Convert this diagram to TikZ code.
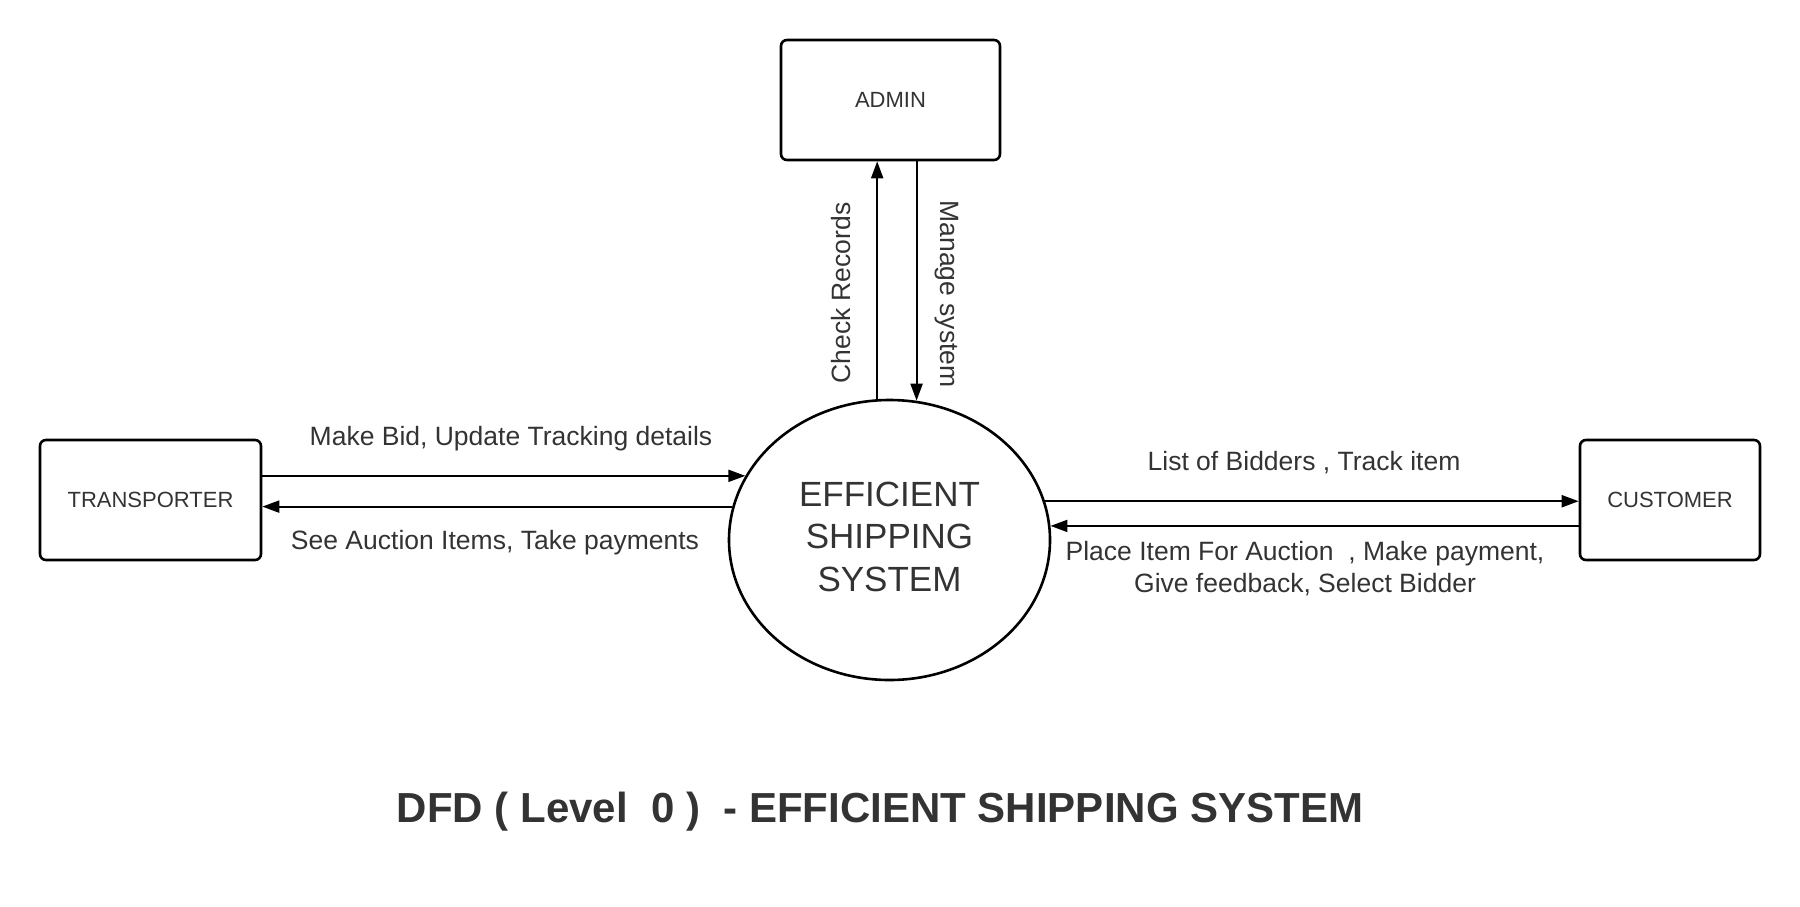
\documentclass[tikz,border=0pt]{standalone}
\usepackage{fontspec}
\setmainfont{Liberation Sans}
\usetikzlibrary{arrows.meta,shapes.geometric}
\definecolor{txt}{HTML}{333333}
\tikzset{
  entity/.style={draw=black, line width=2.6pt, rounded corners=6pt, inner sep=0pt, text=txt, font=\fontsize{22}{26}\selectfont},
  proc/.style={draw=black, line width=2.6pt, ellipse, inner sep=0pt, minimum width=321pt, minimum height=280pt, text=txt, align=center, font=\fontsize{35}{42.5}\selectfont},
  flow/.style={line width=2pt, -{Triangle[length=17pt,width=12pt]}},
  lbl/.style={text=txt, align=center, inner sep=0pt, font=\fontsize{26.5}{32}\selectfont}
}
\begin{document}
\begin{tikzpicture}[x=1pt,y=-1pt]
\useasboundingbox (0,0) rectangle (1800,906);
\node[entity, minimum width=219pt, minimum height=120pt] (admin) at (890.5,100) {ADMIN};
\node[entity, minimum width=221pt, minimum height=120pt] (trans) at (150.5,500) {TRANSPORTER};
\node[entity, minimum width=180pt, minimum height=120pt] (cust) at (1670,500) {CUSTOMER};
\node[proc] (sys) at (889.5,540) {EFFICIENT\\SHIPPING\\SYSTEM\rule[-7pt]{0pt}{0pt}};
% transporter flows
\draw[flow] (sys.156 -| trans.east) -- (sys.156);
\draw[flow] (sys.168.2) -- (sys.168.2 -| trans.east);
% customer flows
\draw[flow] (sys.14.4) -- (sys.14.4 -| cust.west);
\draw[flow] (sys.5.5 -| cust.west) -- (sys.5.5);
% admin flows
\draw[flow] (sys.95.8) -- (sys.95.8 |- admin.south);
\draw[flow] (sys.79.7 |- admin.south) -- (sys.79.7);
% labels
\node[lbl] (l1) at (511,439) {Make Bid, Update Tracking details};
\node[lbl] (l2) at (495,543) {See Auction Items, Take payments};
\node[lbl] (l3) at (1304,463) {List of Bidders , Track item};
\node[lbl] (l4) at (1305,569) {Place Item For Auction\ \ , Make payment,\\Give feedback, Select Bidder};
\node[lbl, rotate=90] (l5) at (841,293) {Check Records};
\node[lbl, rotate=-90] (l6) at (947,294) {Manage system};
\node[text=txt, inner sep=0pt, font=\fontsize{42}{50}\selectfont\bfseries] (title) at (880,812) {DFD ( Level\ \ 0 )\ \ - EFFICIENT SHIPPING SYSTEM};
\end{tikzpicture}
\end{document}
